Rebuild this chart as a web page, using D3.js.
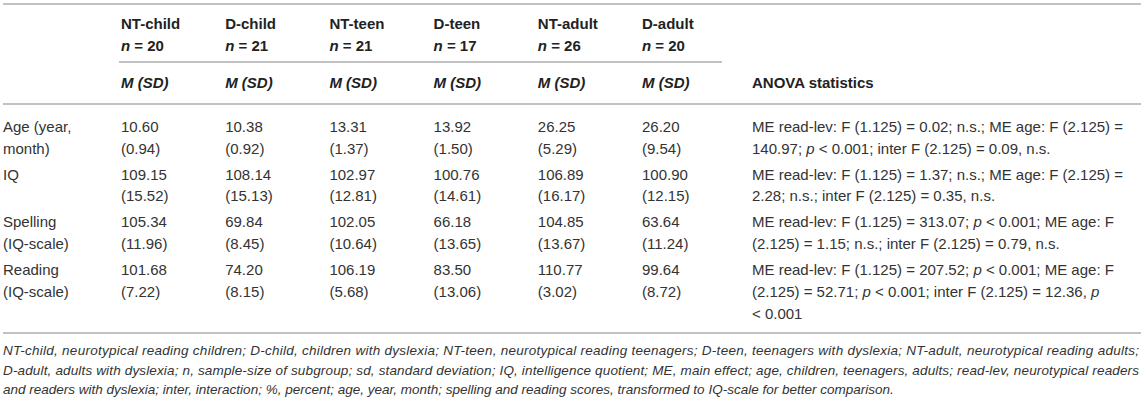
<!DOCTYPE html>
<html>
<head>
<meta charset="utf-8">
<script src="https://cdn.jsdelivr.net/npm/d3@7"></script>
<style>
  html, body { margin: 0; padding: 0; background: #fff; }
  svg { display: block; font-family: "Liberation Sans", Arial, Helvetica, sans-serif; }
</style>
</head>
<body>
<svg id="chart" width="1145" height="402"></svg>
<script>
// ---------- data ----------
const groups = ["NT-child", "D-child", "NT-teen", "D-teen", "NT-adult", "D-adult"];
const groupN = [20, 21, 21, 17, 26, 20];
const measureLabels = [
  ["Age (year,", "month)"],
  ["IQ"],
  ["Spelling", "(IQ-scale)"],
  ["Reading", "(IQ-scale)"]
];
const ageM   = ["10.60", "10.38", "13.31", "13.92", "26.25", "26.20"];
const ageSD  = ["0.94", "0.92", "1.37", "1.50", "5.29", "9.54"];
const iqM    = ["109.15", "108.14", "102.97", "100.76", "106.89", "100.90"];
const iqSD   = ["15.52", "15.13", "12.81", "14.61", "16.17", "12.15"];
const spellM = ["105.34", "69.84", "102.05", "66.18", "104.85", "63.64"];
const spellSD= ["11.96", "8.45", "10.64", "13.65", "13.67", "11.24"];
const readM  = ["101.68", "74.20", "106.19", "83.50", "110.77", "99.64"];
const readSD = ["7.22", "8.15", "5.68", "13.06", "3.02", "8.72"];
const anovaStats = [
  ["ME read-lev: F (1.125) = 0.02; n.s.; ME age: F (2.125) =",
   "140.97; *p* < 0.001; inter F (2.125) = 0.09, n.s."],
  ["ME read-lev: F (1.125) = 1.37; n.s.; ME age: F (2.125) =",
   "2.28; n.s.; inter F (2.125) = 0.35, n.s."],
  ["ME read-lev: F (1.125) = 313.07; *p* < 0.001; ME age: F",
   "(2.125) = 1.15; n.s.; inter F (2.125) = 0.79, n.s."],
  ["ME read-lev: F (1.125) = 207.52; *p* < 0.001; ME age: F",
   "(2.125) = 52.71; *p* < 0.001; inter F (2.125) = 12.36, *p*",
   "< 0.001"]
];
const footnote = [
  "NT-child, neurotypical reading children; D-child, children with dyslexia; NT-teen, neurotypical reading teenagers; D-teen, teenagers with dyslexia; NT-adult, neurotypical reading adults;",
  "D-adult, adults with dyslexia; n, sample-size of subgroup; sd, standard deviation; IQ, intelligence quotient; ME, main effect; age, children, teenagers, adults; read-lev, neurotypical readers",
  "and readers with dyslexia; inter, interaction; %, percent; age, year, month; spelling and reading scores, transformed to IQ-scale for better comparison."
];
const statHeader = "ANOVA statistics";
const subHeader = "M (SD)";

// ---------- layout ----------
const svg = d3.select("#chart");
const textColor = "#333333";
const headColor = "#222222";
const ruleColor = "#c2c2c2";
const fs = 15;
const lineH = 21.7;
const ruleL = 3, ruleR = 1141;

const colX = d3.scaleLinear().domain([0, groups.length - 1]).range([121, 642]);
const anovaX = 752;
const labelX = 3;
const rowY = d3.scaleLinear().domain([0, 1]).range([132, 179.7]); // first-line baselines of body rows

const rows = [
  { m: ageM, sd: ageSD },
  { m: iqM, sd: iqSD },
  { m: spellM, sd: spellSD },
  { m: readM, sd: readSD }
];

// rules
function rule(x1, x2, y) {
  svg.append("line").attr("x1", x1).attr("x2", x2).attr("y1", y).attr("y2", y)
    .attr("stroke", ruleColor).attr("stroke-width", 2);
}
rule(ruleL, ruleR, 4);
rule(colX(0) - 2, 722, 62);
rule(ruleL, ruleR, 104);
rule(ruleL, ruleR, 333);

// header: group names
const hdr = svg.append("g").attr("fill", headColor).attr("font-size", fs).attr("font-weight", "bold");
hdr.selectAll("text.grp").data(groups).join("text")
  .attr("class", "grp").attr("x", (d, i) => colX(i)).attr("y", 28.5).text(d => d);

// header: n = ...
const nt = hdr.selectAll("text.n").data(groupN).join("text")
  .attr("class", "n").attr("x", (d, i) => colX(i)).attr("y", 50.5);
nt.append("tspan").attr("font-style", "italic").text("n");
nt.append("tspan").text(d => " = " + d);

// header: M (SD)
hdr.selectAll("text.msd").data(groups).join("text")
  .attr("class", "msd").attr("x", (d, i) => colX(i)).attr("y", 87.5)
  .attr("font-style", "italic").text(subHeader);
hdr.append("text").attr("x", anovaX).attr("y", 87.5).text(statHeader);

// body
const body = svg.append("g").attr("fill", textColor).attr("font-size", fs);
rows.forEach((r, ri) => {
  const y0 = rowY(ri);
  body.append("g").selectAll("text").data(measureLabels[ri]).join("text")
    .attr("x", labelX).attr("y", (d, li) => y0 + li * lineH).text(d => d);
  body.append("g").selectAll("text.m").data(r.m).join("text")
    .attr("x", (d, i) => colX(i)).attr("y", y0).text(d => d);
  body.append("g").selectAll("text.sd").data(r.sd).join("text")
    .attr("x", (d, i) => colX(i)).attr("y", y0 + lineH).text(d => "(" + d + ")");
  const at = body.append("g").selectAll("text").data(anovaStats[ri]).join("text")
    .attr("x", anovaX).attr("y", (d, li) => y0 + li * lineH);
  at.each(function (d) {
    const parts = d.split("*");
    const t = d3.select(this);
    parts.forEach((p, pi) => {
      if (!p) return;
      t.append("tspan").attr("font-style", pi % 2 === 1 ? "italic" : null).text(p);
    });
  });
});

// footnote (first two lines justified to the table width)
const fnWidth = 1136;
const fn = svg.append("g").attr("fill", textColor).attr("font-size", 13.5).attr("font-style", "italic");
const fnText = fn.selectAll("text").data(footnote).join("text")
  .attr("x", 3).attr("y", (d, i) => 355 + i * 19.5)
  .text(d => d);
// shrink font if natural width of justified lines exceeds the width
let maxW = 0;
fnText.each(function (d, i) { if (i < 2) maxW = Math.max(maxW, this.getComputedTextLength()); });
if (maxW > fnWidth) fn.attr("font-size", 13.5 * fnWidth / maxW);
fnText.each(function (d, i) {
  if (i < 2) d3.select(this).attr("textLength", fnWidth).attr("lengthAdjust", "spacing");
});
</script>
</body>
</html>
